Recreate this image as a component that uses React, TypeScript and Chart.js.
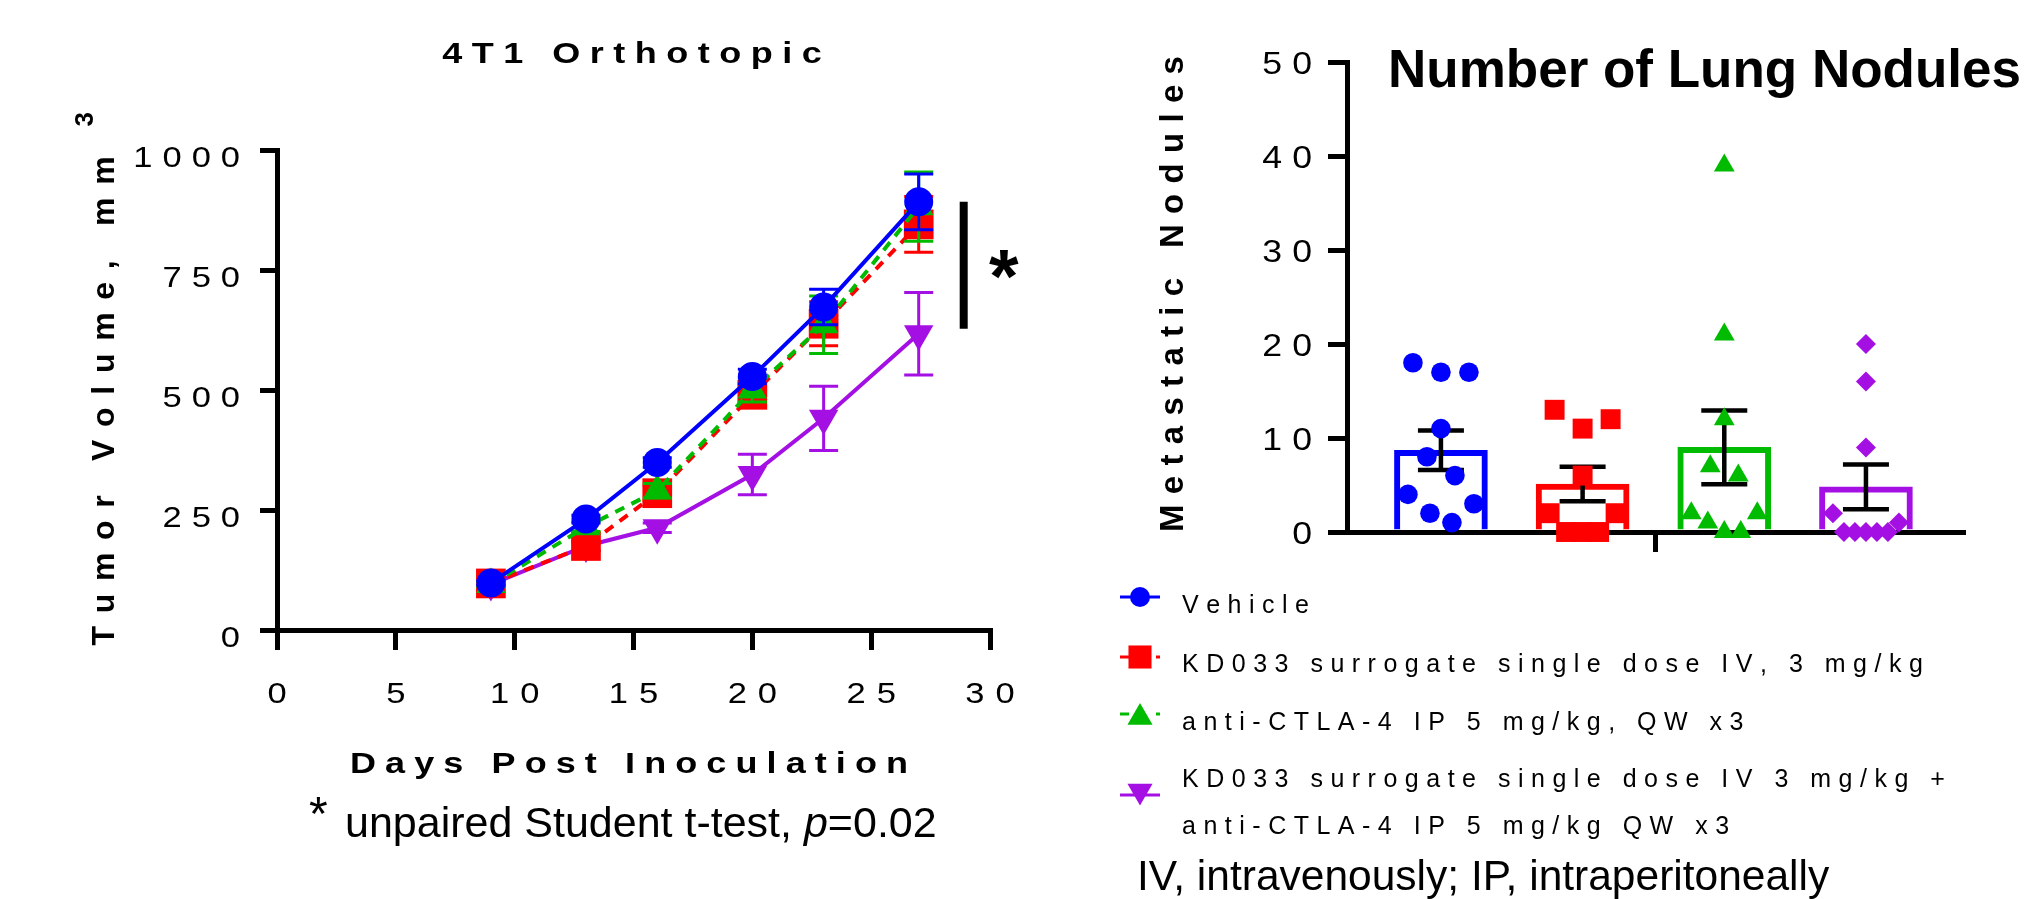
import React, { useEffect, useRef } from 'react';
import { Chart, registerables } from 'chart.js';

Chart.register(...registerables);

const FONT = "'Liberation Sans', Arial, Helvetica, sans-serif";
const BLUE = '#0000ff';
const RED = '#ff0000';
const GREEN = '#00bb00';
const PURPLE = '#a40fe4';

// ---------- Left chart: 4T1 orthotopic tumour volume ----------
const days = [9, 13, 16, 20, 23, 27];
const vehicleMean = [98, 231, 349, 528, 673, 892];
const vehicleSem = [5, 8, 10, 15, 37, 58];
const kd033Mean = [97, 175, 285, 490, 638, 845];
const kd033Sem = [5, 10, 15, 22, 46, 58];
const antiMean = [95, 215, 290, 500, 636, 882];
const antiSem = [5, 10, 15, 25, 60, 72];
const comboMean = [95, 175, 213, 324, 441, 617];
const comboSem = [5, 10, 10, 42, 67, 86];
const xTicksLeft = [0, 5, 10, 15, 20, 25, 30];
const yTicksLeft = [0, 250, 500, 750, 1000];

const seriesNames = [
  'Vehicle',
  'KD033 surrogate single dose IV, 3 mg/kg',
  'anti-CTLA-4 IP 5 mg/kg, QW x3',
  'KD033 surrogate single dose IV 3 mg/kg + anti-CTLA-4 IP 5 mg/kg QW x3',
];
const legendLines = [
  ['Vehicle'],
  ['KD033 surrogate single dose IV, 3 mg/kg'],
  ['anti-CTLA-4 IP 5 mg/kg, QW x3'],
  ['KD033 surrogate single dose IV 3 mg/kg +', 'anti-CTLA-4 IP 5 mg/kg QW x3'],
];

// ---------- Right chart: lung nodules ----------
const nodGroups = ['Vehicle', 'KD033', 'anti-CTLA-4', 'KD033 + anti-CTLA-4'];
const nodVehicle = [17, 17, 18, 11, 8, 6, 4, 3, 2, 1];
const nodKd033 = [13, 11, 12, 6, 2, 2, 0, 0, 0];
const nodAnti = [39, 21, 12, 7, 6, 2, 2, 1, 0, 0];
const nodCombo = [20, 16, 9, 2, 1, 0, 0, 0, 0, 0];
const nodMean = [8.7, 5.1, 9.0, 4.8];
const nodSem = [2.1, 1.84, 3.93, 2.38];
const yTicksRight = [0, 10, 20, 30, 40, 50];

// ---------- styles ----------
const leftSeries = [
  { mean: vehicleMean, sem: vehicleSem },
  { mean: kd033Mean, sem: kd033Sem },
  { mean: antiMean, sem: antiSem },
  { mean: comboMean, sem: comboSem },
];
const seriesStyles = [
  { color: BLUE, pointStyle: 'circle', radius: 14.5, rotation: 0, dash: [] as number[], order: 0, legendR: 10 },
  { color: RED, pointStyle: 'rect', radius: 21, rotation: 0, dash: [10, 8], order: 2, legendR: 16.3 },
  { color: GREEN, pointStyle: 'triangle', radius: 17, rotation: 0, dash: [10, 8], order: 1, legendR: 14.5 },
  { color: PURPLE, pointStyle: 'triangle', radius: 17, rotation: 180, dash: [] as number[], order: 3, legendR: 14.5 },
];
const groupStyles = [
  { color: BLUE, pointStyle: 'circle', radius: 9.8 },
  { color: RED, pointStyle: 'rect', radius: 14.1 },
  { color: GREEN, pointStyle: 'triangle', radius: 12 },
  { color: PURPLE, pointStyle: 'rectRot', radius: 10 },
];

function drawSpaced(
  ctx: CanvasRenderingContext2D,
  text: string,
  x: number,
  y: number,
  font: string,
  spacing: number,
  align: 'left' | 'right' | 'center' = 'left',
  hs = 1
) {
  ctx.save();
  ctx.font = font;
  ctx.textAlign = 'left';
  ctx.textBaseline = 'alphabetic';
  const chars = [...text];
  const widths = chars.map((c) => ctx.measureText(c).width * hs);
  const total = widths.reduce((a, b) => a + b, 0) + spacing * (chars.length - 1);
  let cx = align === 'left' ? x : align === 'right' ? x - total : x - total / 2;
  chars.forEach((c, i) => {
    ctx.save();
    ctx.translate(cx, y);
    ctx.scale(hs, 1);
    ctx.fillText(c, 0, 0);
    ctx.restore();
    cx += widths[i] + spacing;
  });
  ctx.restore();
  return total;
}

function drawMarker(
  ctx: CanvasRenderingContext2D,
  style: string,
  cx: number,
  cy: number,
  r: number,
  rotation: number,
  color: string
) {
  ctx.save();
  ctx.fillStyle = color;
  ctx.beginPath();
  if (style === 'circle') {
    ctx.arc(cx, cy, r, 0, Math.PI * 2);
  } else if (style === 'rect') {
    const h = r * Math.SQRT1_2;
    ctx.rect(cx - h, cy - h, 2 * h, 2 * h);
  } else {
    let a = (rotation * Math.PI) / 180;
    for (let i = 0; i < 3; i++) {
      const px = cx + Math.sin(a) * r;
      const py = cy - Math.cos(a) * r;
      if (i === 0) ctx.moveTo(px, py);
      else ctx.lineTo(px, py);
      a += (2 * Math.PI) / 3;
    }
    ctx.closePath();
  }
  ctx.fill();
  ctx.restore();
}

const leftDecor = {
  id: 'leftDecor',
  beforeDatasetDraw(chart: any, args: any) {
    const i = args.index;
    const s = leftSeries[i];
    const st = seriesStyles[i];
    const { x, y } = chart.scales;
    const ctx: CanvasRenderingContext2D = chart.ctx;
    ctx.save();
    ctx.setLineDash([]);
    ctx.strokeStyle = st.color;
    ctx.lineWidth = 3;
    days.forEach((d, k) => {
      const px = x.getPixelForValue(d);
      const top = y.getPixelForValue(s.mean[k] + s.sem[k]);
      const bot = y.getPixelForValue(s.mean[k] - s.sem[k]);
      ctx.beginPath();
      ctx.moveTo(px, top);
      ctx.lineTo(px, bot);
      ctx.moveTo(px - 14.5, top);
      ctx.lineTo(px + 14.5, top);
      ctx.moveTo(px - 14.5, bot);
      ctx.lineTo(px + 14.5, bot);
      ctx.stroke();
    });
    ctx.restore();
  },
  afterDatasetsDraw(chart: any) {
    const { x, y } = chart.scales;
    const ctx: CanvasRenderingContext2D = chart.ctx;
    const last = days.length - 1;
    const bx = x.getPixelForValue(days[last]) + 45;
    ctx.save();
    ctx.strokeStyle = '#000';
    ctx.lineWidth = 8;
    ctx.beginPath();
    ctx.moveTo(bx, y.getPixelForValue(vehicleMean[last]));
    ctx.lineTo(bx, y.getPixelForValue(comboMean[last]) - 5);
    ctx.stroke();
    ctx.fillStyle = '#000';
    ctx.font = `bold 76px ${FONT}`;
    ctx.textAlign = 'center';
    ctx.fillText('*', bx + 40, 302);
    ctx.restore();
  },
  afterDraw(chart: any) {
    const { x, y } = chart.scales;
    const ctx: CanvasRenderingContext2D = chart.ctx;
    const area = chart.chartArea;
    ctx.save();
    ctx.fillStyle = '#000';
    // tick labels
    y.ticks.forEach((t: any) => {
      drawSpaced(ctx, String(t.value), area.left - 37, y.getPixelForValue(t.value) + 16.5, `30px ${FONT}`, 10, 'right', 1.15);
    });
    x.ticks.forEach((t: any) => {
      drawSpaced(ctx, String(t.value), x.getPixelForValue(t.value), 703, `30px ${FONT}`, 11, 'center', 1.15);
    });
    // title
    drawSpaced(ctx, '4T1 Orthotopic', 632, 63, `bold 30px ${FONT}`, 9.5, 'center', 1.2);
    // x title
    drawSpaced(ctx, 'Days Post Inoculation', 629, 773, `bold 30px ${FONT}`, 9.1, 'center', 1.2);
    // y title (rotated)
    ctx.save();
    ctx.translate(114, 401);
    ctx.rotate(-Math.PI / 2);
    const tw = drawSpaced(ctx, 'Tumor Volume, mm', 0, 0, `bold 32px ${FONT}`, 12.7, 'center');
    ctx.restore();
    ctx.save();
    ctx.translate(93, 401 - tw / 2 - 30);
    ctx.rotate(-Math.PI / 2);
    drawSpaced(ctx, '3', 0, 0, `bold 26px ${FONT}`, 0, 'left');
    ctx.restore();
    // footnote
    ctx.font = `48px ${FONT}`;
    ctx.textAlign = 'left';
    ctx.fillText('*', 309, 830);
    ctx.font = `43px ${FONT}`;
    let fx = 345;
    const part1 = 'unpaired Student t-test, ';
    ctx.fillText(part1, fx, 837);
    fx += ctx.measureText(part1).width;
    ctx.font = `italic 43px ${FONT}`;
    ctx.fillText('p', fx, 837);
    fx += ctx.measureText('p').width;
    ctx.font = `43px ${FONT}`;
    ctx.fillText('=0.02', fx, 837);
    // legend
    const markerY = [597, 657, 717.5, 791];
    const lineY = [597, 657, 714, 795];
    const textBase = [[612.7], [671.7], [730], [786.7, 834]];
    seriesStyles.forEach((st, i) => {
      ctx.save();
      ctx.strokeStyle = st.color;
      ctx.lineWidth = 3;
      ctx.setLineDash(st.dash.length ? [9, 27] : []);
      ctx.beginPath();
      ctx.moveTo(1120, lineY[i]);
      ctx.lineTo(1160, lineY[i]);
      ctx.stroke();
      ctx.restore();
      drawMarker(ctx, st.pointStyle, 1140, markerY[i], st.legendR, st.rotation, st.color);
      legendLines[i].forEach((line, j) => {
        drawSpaced(ctx, line, 1182, textBase[i][j], `25px ${FONT}`, 7.5, 'left');
      });
    });
    ctx.font = `42.5px ${FONT}`;
    ctx.fillText('IV, intravenously; IP, intraperitoneally', 1137, 890);
    ctx.restore();
  },
};

const rightDecor = {
  id: 'rightDecor',
  afterDatasetDraw(chart: any, args: any) {
    if (args.index !== 0) return;
    const { x, y } = chart.scales;
    const ctx: CanvasRenderingContext2D = chart.ctx;
    ctx.save();
    ctx.strokeStyle = '#000';
    ctx.lineWidth = 4.5;
    nodMean.forEach((m, i) => {
      const px = x.getPixelForValue(i + 1);
      const top = y.getPixelForValue(m + nodSem[i]);
      const bot = y.getPixelForValue(m - nodSem[i]);
      ctx.beginPath();
      ctx.moveTo(px, top);
      ctx.lineTo(px, bot);
      ctx.moveTo(px - 23, top);
      ctx.lineTo(px + 23, top);
      ctx.moveTo(px - 23, bot);
      ctx.lineTo(px + 23, bot);
      ctx.stroke();
    });
    ctx.restore();
  },
  afterDraw(chart: any) {
    const { y } = chart.scales;
    const ctx: CanvasRenderingContext2D = chart.ctx;
    const area = chart.chartArea;
    ctx.save();
    ctx.fillStyle = '#000';
    y.ticks.forEach((t: any) => {
      drawSpaced(ctx, String(t.value), area.left - 35, y.getPixelForValue(t.value) + 12, `31px ${FONT}`, 10, 'right', 1.15);
    });
    ctx.save();
    ctx.translate(123, 294);
    ctx.rotate(-Math.PI / 2);
    drawSpaced(ctx, 'Metastatic Nodules', 0, 0, `bold 33px ${FONT}`, 10.3, 'center');
    ctx.restore();
    ctx.font = `bold 53px ${FONT}`;
    ctx.textAlign = 'left';
    ctx.fillText('Number of Lung Nodules', 328, 87);
    ctx.restore();
  },
};

function swarmOffsets(pys: number[], y0: number) {
  const BIN_PX = 47;
  const MAX_HALF = 33;
  const MAX_STEP = 28;
  const bins = new Map<number, number[]>();
  pys.forEach((py, i) => {
    const b = Math.floor((y0 - py) / BIN_PX + 1e-6);
    if (!bins.has(b)) bins.set(b, []);
    bins.get(b)!.push(i);
  });
  const offs = new Array(pys.length).fill(0);
  bins.forEach((idx) => {
    const k = idx.length;
    if (k === 1) return;
    idx.sort((a, b) => pys[a] - pys[b]);
    const step = Math.min(MAX_STEP, (2 * MAX_HALF) / (k - 1));
    const slots: number[] = [];
    let lo = 0;
    let hi = k - 1;
    while (lo <= hi) {
      slots.push(lo++);
      if (lo <= hi) slots.push(hi--);
    }
    idx.forEach((pi, j) => {
      offs[pi] = (slots[j] - (k - 1) / 2) * step;
    });
  });
  return offs;
}

const axisGrid = (len: number) => ({
  display: true,
  drawOnChartArea: false,
  drawTicks: true,
  tickLength: len,
  tickWidth: 5,
  tickColor: '#000',
  color: '#000',
  lineWidth: 5,
  offset: false,
});

export default function App() {
  const leftRef = useRef<HTMLCanvasElement>(null);
  const rightRef = useRef<HTMLCanvasElement>(null);

  useEffect(() => {
    const left = new Chart(leftRef.current as HTMLCanvasElement, {
      type: 'line',
      data: {
        datasets: leftSeries.map((s, i) => {
          const st = seriesStyles[i];
          return {
            label: seriesNames[i],
            data: days.map((d, k) => ({ x: d, y: s.mean[k] })),
            borderColor: st.color,
            backgroundColor: st.color,
            borderWidth: 4,
            borderDash: st.dash,
            tension: 0,
            fill: false,
            pointStyle: st.pointStyle as any,
            pointRadius: st.radius,
            pointRotation: st.rotation,
            pointBackgroundColor: st.color,
            pointBorderColor: st.color,
            pointBorderWidth: 0,
            order: st.order,
            clip: false as any,
          };
        }),
      },
      options: {
        responsive: false,
        animation: false,
        devicePixelRatio: 1,
        layout: { padding: { left: 0, top: 150, right: 1039, bottom: 0 } },
        scales: {
          x: {
            type: 'linear',
            min: 0,
            max: 30,
            offset: false,
            afterBuildTicks: (s: any) => {
              s.ticks = xTicksLeft.map((v) => ({ value: v }));
            },
            afterFit: (s: any) => {
              s.height = 269;
            },
            grid: axisGrid(20),
            border: { display: true, color: '#000', width: 5 },
            ticks: { display: false },
          },
          y: {
            type: 'linear',
            min: 0,
            max: 1000,
            afterBuildTicks: (s: any) => {
              s.ticks = yTicksLeft.map((v) => ({ value: v }));
            },
            afterFit: (s: any) => {
              s.width = 277;
            },
            grid: axisGrid(17),
            border: { display: true, color: '#000', width: 5 },
            ticks: { display: false },
          },
        },
        plugins: {
          legend: { display: false },
          title: { display: false },
          tooltip: { enabled: false },
        },
      },
      plugins: [leftDecor],
    } as any);

    const nodValues = [nodVehicle, nodKd033, nodAnti, nodCombo];
    const right = new Chart(rightRef.current as HTMLCanvasElement, {
      type: 'bar',
      data: {
        datasets: [
          {
            type: 'bar',
            label: 'Mean',
            data: nodMean.map((m, i) => ({ x: i + 1, y: m })),
            backgroundColor: '#ffffff',
            borderColor: groupStyles.map((g) => g.color),
            borderWidth: 6,
            borderSkipped: 'start',
            barThickness: 93,
            order: 10,
          },
          ...nodValues.map((vals, gi) => ({
            type: 'scatter',
            label: nodGroups[gi],
            data: vals.map((v) => ({ x: gi + 1, y: v })),
            pointStyle: groupStyles[gi].pointStyle,
            pointRadius: groupStyles[gi].radius,
            backgroundColor: groupStyles[gi].color,
            borderColor: groupStyles[gi].color,
            pointBorderWidth: 0,
            showLine: false,
            clip: false,
            order: gi,
          })),
        ],
      },
      options: {
        responsive: false,
        animation: false,
        devicePixelRatio: 1,
        layout: { padding: { left: 0, top: 62, right: 66, bottom: 0 } },
        scales: {
          x: {
            type: 'linear',
            min: 0.337,
            max: 4.685,
            offset: false,
            afterBuildTicks: (s: any) => {
              s.ticks = [{ value: (s.min + s.max) / 2 }];
            },
            afterFit: (s: any) => {
              s.height = 38;
            },
            grid: axisGrid(20),
            border: { display: true, color: '#000', width: 5 },
            ticks: { display: false },
          },
          y: {
            type: 'linear',
            min: 0,
            max: 50,
            afterBuildTicks: (s: any) => {
              s.ticks = yTicksRight.map((v) => ({ value: v }));
            },
            afterFit: (s: any) => {
              s.width = 287;
            },
            grid: axisGrid(19),
            border: { display: true, color: '#000', width: 5 },
            ticks: { display: false },
          },
        },
        plugins: {
          legend: { display: false },
          title: { display: false },
          tooltip: { enabled: false },
        },
      },
      plugins: [rightDecor],
    } as any);

    // spread points horizontally (swarm) using the chart's own scales
    const xs: any = right.scales.x;
    const ys: any = right.scales.y;
    const y0 = ys.getPixelForValue(0);
    nodValues.forEach((vals, gi) => {
      const cx = xs.getPixelForValue(gi + 1);
      const offs = swarmOffsets(vals.map((v) => ys.getPixelForValue(v)), y0);
      (right.data.datasets[gi + 1] as any).data = vals.map((v, k) => ({
        x: xs.getValueForPixel(cx + offs[k]),
        y: v,
      }));
    });
    right.update();

    return () => {
      left.destroy();
      right.destroy();
    };
  }, []);

  return (
    <div
      style={{
        position: 'fixed',
        left: 0,
        top: 0,
        width: 2029,
        height: 899,
        background: '#ffffff',
        overflow: 'hidden',
      }}
    >
      <canvas
        ref={leftRef}
        width={2029}
        height={899}
        style={{ position: 'absolute', left: 0, top: 0, width: 2029, height: 899 }}
      />
      <canvas
        ref={rightRef}
        width={969}
        height={570}
        style={{ position: 'absolute', left: 1060, top: 0, width: 969, height: 570 }}
      />
    </div>
  );
}
